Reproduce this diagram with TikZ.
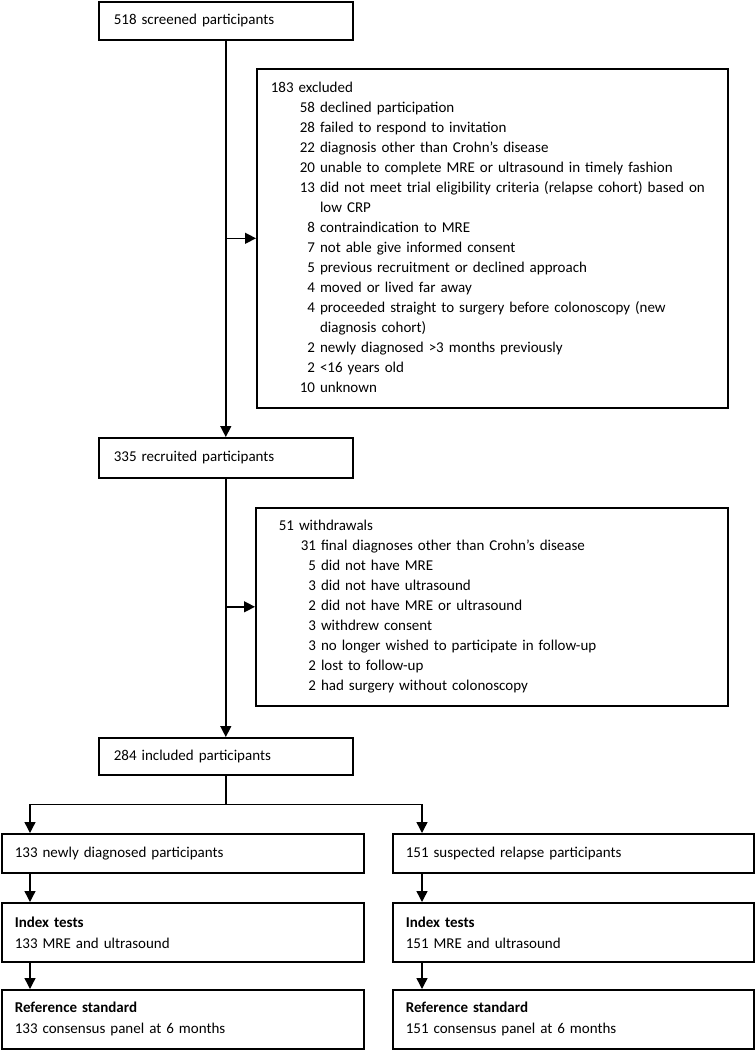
\documentclass[tikz,border=0pt]{standalone}
\usepackage{fontspec}
\setmainfont{Carlito}
\usepackage{tikz}
\usetikzlibrary{arrows.meta,positioning,calc}

\tikzset{
  flowbox/.style={draw, line width=1.6pt, rectangle, anchor=north west, inner ysep=0pt, align=left, font=\fontsize{15}{20}\selectfont},
  flowarrow/.style={line width=1.4pt, -{Triangle[length=11pt,width=11pt]}},
  flowline/.style={line width=1.4pt},
}

\begin{document}
\begin{tikzpicture}[x=1pt,y=1pt,yscale=-1,xscale=1]
\useasboundingbox (0,0) rectangle (755,1050);

% main column
\node[flowbox, inner xsep=15pt, text width=224pt, minimum height=38pt] (scr) at (98,1) {518 screened participants};
\node[flowbox, inner xsep=15pt, text width=224pt, minimum height=40pt] (rec) at (98,437) {335 recruited participants};
\node[flowbox, inner xsep=15pt, text width=224pt, minimum height=37pt] (inc) at (98,737) {284 included participants};

% excluded
\node[flowbox, inner xsep=14pt, text width=443pt, minimum height=339pt] (excl) at (256,68) {%
\begin{tabular}{@{\hspace{29pt}}r@{ }l@{}}
\multicolumn{2}{@{}l}{183 excluded}\\
58 & declined participation\\
28 & failed to respond to invitation\\
22 & diagnosis other than Crohn’s disease\\
20 & unable to complete MRE or ultrasound in timely fashion\\
13 & did not meet trial eligibility criteria (relapse cohort) based on\\
   & low CRP\\
8 & contraindication to MRE\\
7 & not able give informed consent\\
5 & previous recruitment or declined approach\\
4 & moved or lived far away\\
4 & proceeded straight to surgery before colonoscopy (new\\
  & diagnosis cohort)\\
2 & newly diagnosed >3 months previously\\
2 & <16 years old\\
10 & unknown
\end{tabular}};

% withdrawals
\node[flowbox, inner xsep=23pt, text width=426pt, minimum height=198pt] (wdr) at (255,507) {%
\begin{tabular}{@{\hspace{22pt}}r@{ }l@{}}
\multicolumn{2}{@{}l}{51 withdrawals}\\
31 & final diagnoses other than Crohn’s disease\\
5 & did not have MRE\\
3 & did not have ultrasound\\
2 & did not have MRE or ultrasound\\
3 & withdrew consent\\
3 & no longer wished to participate in follow-up\\
2 & lost to follow-up\\
2 & had surgery without colonoscopy
\end{tabular}};

% cohorts
\node[flowbox, inner xsep=13pt, text width=336pt, minimum height=39pt] (new) at (1,833) {133 newly diagnosed participants};
\node[flowbox, inner xsep=13pt, text width=335pt, minimum height=39pt] (rel) at (392,833) {151 suspected relapse participants};
\node[flowbox, inner xsep=13pt, text width=336pt, minimum height=59pt, font=\fontsize{15}{21}\selectfont] (idxL) at (1,902) {\textbf{Index tests}\\133 MRE and ultrasound};
\node[flowbox, inner xsep=13pt, text width=335pt, minimum height=59pt, font=\fontsize{15}{21}\selectfont] (idxR) at (392,902) {\textbf{Index tests}\\151 MRE and ultrasound};
\node[flowbox, inner xsep=13pt, text width=336pt, minimum height=59pt, font=\fontsize{15}{21}\selectfont] (refL) at (1,989) {\textbf{Reference standard}\\133 consensus panel at 6 months};
\node[flowbox, inner xsep=13pt, text width=335pt, minimum height=59pt, font=\fontsize{15}{21}\selectfont] (refR) at (392,989) {\textbf{Reference standard}\\151 consensus panel at 6 months};

% connectors
\draw[flowarrow] (scr.south) -- (rec.north);
\draw[flowarrow] (scr.south |- excl.west) -- (excl.west);
\draw[flowarrow] (rec.south) -- (inc.north);
\draw[flowarrow] (rec.south |- wdr.west) -- (wdr.west);
\coordinate (split) at ($(inc.south)+(0,29)$);
\draw[flowline] (inc.south) -- (split);
\draw[flowarrow] (split) -| ([xshift=29pt]new.north west);
\draw[flowarrow] (split) -| ([xshift=30pt]rel.north west);
\draw[flowarrow] ([xshift=29pt]new.south west) -- ([xshift=29pt]idxL.north west);
\draw[flowarrow] ([xshift=30pt]rel.south west) -- ([xshift=30pt]idxR.north west);
\draw[flowarrow] ([xshift=29pt]idxL.south west) -- ([xshift=29pt]refL.north west);
\draw[flowarrow] ([xshift=30pt]idxR.south west) -- ([xshift=30pt]refR.north west);

\end{tikzpicture}
\end{document}
